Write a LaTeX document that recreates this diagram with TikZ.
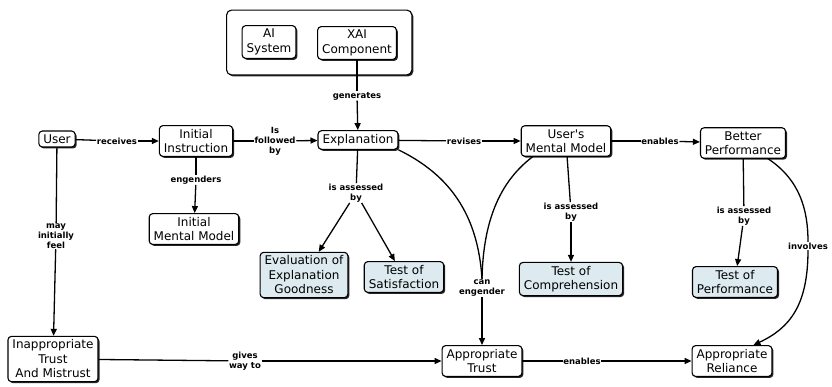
\documentclass[tikz,border=0pt]{standalone}
\usepackage{fontspec}
\setmainfont{DejaVu Sans}
\usetikzlibrary{positioning,arrows.meta,shadows,fit,backgrounds}
\definecolor{testfill}{RGB}{221,235,240}
\tikzset{
  concept/.style={
    draw,
    fill=white,
    line width=1.1pt,
    rounded corners=3.5pt,
    align=center,
    inner xsep=4.5pt,
    inner ysep=3.5pt,
    font=\fontsize{12}{14.5}\selectfont,
    drop shadow={shadow xshift=1.5pt,shadow yshift=-1.5pt,fill=black!85,opacity=1}
  },
  measure/.style={
    concept,
    fill=testfill
  },
  link/.style={
    font=\bfseries\fontsize{8.5}{10}\selectfont,
    align=center,
    fill=white,
    inner sep=0.6pt
  },
  conn/.style={
    line width=1.3pt
  },
  arr/.style={
    conn,
    -{Triangle[length=7pt,width=6pt]}
  },
}

\begin{document}
\begin{tikzpicture}[x=1pt,y=-1pt]
  \useasboundingbox (0,0) rectangle (832,386);
  % concepts
  \node[concept] (ai)    at (269,42)  {AI\\System};
  \node[concept] (xai)   at (357,43)  {XAI\\Component};
  \node[concept] (user)  at (57,139)  {User};
  \node[concept] (instr) at (196,141) {Initial\\Instruction};
  \node[concept] (expl)  at (358,140) {Explanation};
  \node[concept] (umm)   at (566,141) {User\textquotesingle s\\Mental Model};
  \node[concept] (bperf) at (743,143) {Better\\Performance};
  \node[concept] (imm)   at (194,229) {Initial\\Mental Model};
  \node[measure] (eval)  at (304,275) {Evaluation of\\Explanation\\Goodness};
  \node[measure] (tsat)  at (404,277) {Test of\\Satisfaction};
  \node[measure] (tcomp) at (571,279) {Test of\\Comprehension};
  \node[measure] (tperf) at (735,282) {Test of\\Performance};
  \node[concept] (inapp) at (53,359)  {Inappropriate\\Trust\\And Mistrust};
  \node[concept] (atrust) at (482,361) {Appropriate\\Trust};
  \node[concept] (arel)  at (732,361) {Appropriate\\Reliance};
  \begin{scope}[on background layer]
    \node[concept,rounded corners=5pt,fit=(ai)(xai),inner xsep=15pt,inner ysep=15pt] (sys) {};
  \end{scope}
  % links
  \node[link] (lgen)  at (357,96)  {generates};
  \node[link] (lrec)  at (117,141) {receives};
  \node[link] (lfol)  at (275,141) {Is\\followed\\by};
  \node[link] (leng)  at (196,180) {engenders};
  \node[link] (lass1) at (356,193) {is assessed\\by};
  \node[link] (lrev)  at (464,141) {revises};
  \node[link] (lena1) at (660,141) {enables};
  \node[link] (lass2) at (571,212) {is assessed\\by};
  \node[link] (lass3) at (744,216) {is assessed\\by};
  \node[link] (linv)  at (808,246) {involves};
  \node[link] (lmay)  at (56,236)  {may\\initially\\feel};
  \node[link] (lcan)  at (482,288) {can\\engender};
  \node[link] (lgiv)  at (245,361) {gives\\way to};
  \node[link] (lena2) at (582,361) {enables};

  \draw[conn] (xai) -- (lgen);
  \draw[arr] (lgen) -- (expl);
  \draw[conn] (user) -- (lrec);
  \draw[arr] (lrec) -- (instr);
  \draw[conn] (instr) -- (lfol);
  \draw[arr] (lfol) -- (expl);
  \draw[conn] (instr) -- (leng);
  \draw[arr] (leng) -- (imm);
  \draw[conn] (expl) -- (lass1);
  \draw[arr] (lass1) -- (eval);
  \draw[arr] (lass1) -- (tsat);
  \draw[conn] (expl) -- (lrev);
  \draw[arr] (lrev) -- (umm);
  \draw[conn] (umm) -- (lena1);
  \draw[arr] (lena1) -- (bperf);
  \draw[conn] (umm) -- (lass2);
  \draw[arr] (lass2) -- (tcomp);
  \draw[conn] (bperf) -- (lass3);
  \draw[arr] (lass3) -- (tperf);
  \draw[conn] (user) -- (lmay);
  \draw[arr] (lmay) -- (inapp);
  \draw[conn] (inapp) -- (lgiv);
  \draw[arr] (lgiv) -- (atrust);
  \draw[conn] (atrust) -- (lena2);
  \draw[arr] (lena2) -- (arel);
  % curved ones
  \draw[conn] (expl.south east) .. controls (450,175) and (478,215) .. (lcan.north);
  \draw[conn] ([xshift=12pt]umm.south west) .. controls (495,185) and (483,230) .. (lcan.north);
  \draw[arr] (lcan) -- (atrust);
  \draw[conn] ([xshift=-18pt]bperf.south east) .. controls (800,180) and (808,210) .. (linv.north);
  \draw[arr] (linv.south) .. controls (808,305) and (790,328) .. ([xshift=-19pt]arel.north east);
\end{tikzpicture}
\end{document}
